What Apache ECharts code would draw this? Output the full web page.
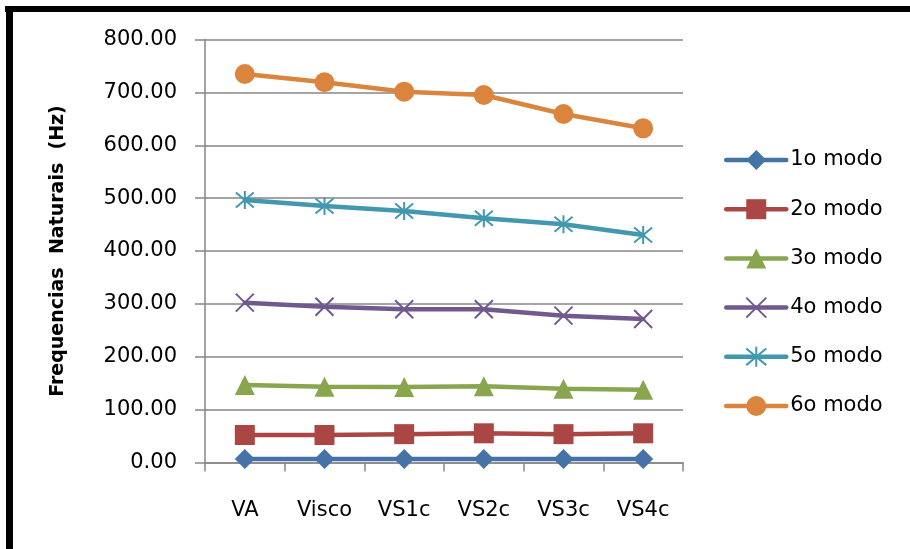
<!DOCTYPE html>
<html>
<head>
<meta charset="utf-8">
<script src="https://cdn.jsdelivr.net/npm/echarts@6/dist/echarts.min.js"></script>
<style>
  html, body { margin: 0; padding: 0; background: #fff; }
  #chart { width: 910px; height: 549px; }
</style>
</head>
<body>
<div id="chart"></div>
<script>
// Test cases along the horizontal axis
const categories = ['VA', 'Visco', 'VS1c', 'VS2c', 'VS3c', 'VS4c'];

// Natural frequencies (Hz) for each vibration mode
const modo1 = [6.6, 6.6, 6.6, 6.6, 6.6, 6.6];
const modo2 = [52.0, 52.0, 53.6, 55.2, 53.6, 55.2];
const modo3 = [146.6, 143.4, 142.8, 144.0, 139.4, 137.5];
const modo4 = [302.3, 294.7, 289.7, 289.7, 277.7, 271.4];
const modo5 = [496.4, 485.1, 475.6, 461.8, 450.5, 430.3];
const modo6 = [734.8, 719.1, 701.3, 695.0, 659.1, 632.0];

const seriesNames = ['1o modo', '2o modo', '3o modo', '4o modo', '5o modo', '6o modo'];
const yTicks = { min: 0, max: 800, interval: 100 };

const FONT = 'DejaVu Sans';
const colors = ['#4572A7', '#AA4643', '#89A54E', '#71588F', '#4198AF', '#DB843D'];

// Marker shapes: diamond, square, triangle, cross, star, circle
const crossPath = 'path://M0,0L10,10M10,0L0,10';
const starPath = 'path://M0,0L10,10M10,0L0,10M5,-1L5,11';

function lineSeries(i, data, symbol, stroked) {
  const s = {
    name: seriesNames[i],
    type: 'line',
    data: data,
    symbol: symbol,
    symbolSize: 20,
    showAllSymbol: true,
    lineStyle: { color: colors[i], width: 4.5, cap: 'round' },
    itemStyle: { color: colors[i] },
    emphasis: { disabled: true },
    z: 2 + i
  };
  if (stroked) {
    s.symbolSize = 18;
    s.itemStyle = { color: 'none', borderColor: colors[i], borderWidth: 2 };
  }
  return s;
}

const chart = echarts.init(document.getElementById('chart'), null, { renderer: 'canvas' });

chart.setOption({
  animation: false,
  backgroundColor: '#ffffff',
  textStyle: { fontFamily: FONT },
  grid: { left: 205, right: 227, top: 39.5, bottom: 86.5, containLabel: false },
  xAxis: {
    type: 'category',
    data: categories,
    boundaryGap: true,
    axisLine: { show: true, lineStyle: { color: '#868686', width: 1.5 } },
    axisTick: { show: true, length: 9, inside: false, alignWithLabel: false, lineStyle: { color: '#868686', width: 1.5 } },
    axisLabel: { fontFamily: FONT, fontSize: 21, color: '#000', margin: 38, lineHeight: 21 },
    splitLine: { show: false }
  },
  yAxis: {
    type: 'value',
    min: yTicks.min,
    max: yTicks.max,
    interval: yTicks.interval,
    axisLine: { show: true, lineStyle: { color: '#868686', width: 1.5 } },
    axisTick: { show: true, length: 10, lineStyle: { color: '#868686', width: 1.5 } },
    axisLabel: {
      fontFamily: FONT, fontSize: 21, color: '#000', margin: 28,
      formatter: v => v.toFixed(2)
    },
    splitLine: { show: true, lineStyle: { color: '#868686', width: 1.5 } }
  },
  legend: {
    orient: 'vertical',
    left: 719,
    top: 142.5,
    itemWidth: 60,
    itemHeight: 25,
    itemGap: 24.2,
    lineStyle: { width: 4.5, cap: 'round' },
    textStyle: { fontFamily: FONT, fontSize: 21, color: '#000', lineHeight: 25, padding: [0, 0, 0, -1] },
    data: seriesNames
  },
  graphic: [
    // frame
    { type: 'rect', shape: { x: 5, y: 6, width: 905, height: 6 }, style: { fill: '#000' }, silent: true },
    { type: 'rect', shape: { x: 6, y: 6, width: 7, height: 543 }, style: { fill: '#000' }, silent: true },
    // axis title
    {
      type: 'text', x: 58, y: 251, rotation: Math.PI / 2,
      style: {
        text: 'Frequencias  Naturais  (Hz)',
        font: 'bold 19px "' + FONT + '"',
        fill: '#000', align: 'center', verticalAlign: 'middle'
      },
      silent: true
    }
  ],
  series: [
    lineSeries(0, modo1, 'diamond'),
    lineSeries(1, modo2, 'rect'),
    lineSeries(2, modo3, 'triangle'),
    lineSeries(3, modo4, crossPath, true),
    lineSeries(4, modo5, starPath, true),
    lineSeries(5, modo6, 'circle')
  ]
});
</script>
</body>
</html>
